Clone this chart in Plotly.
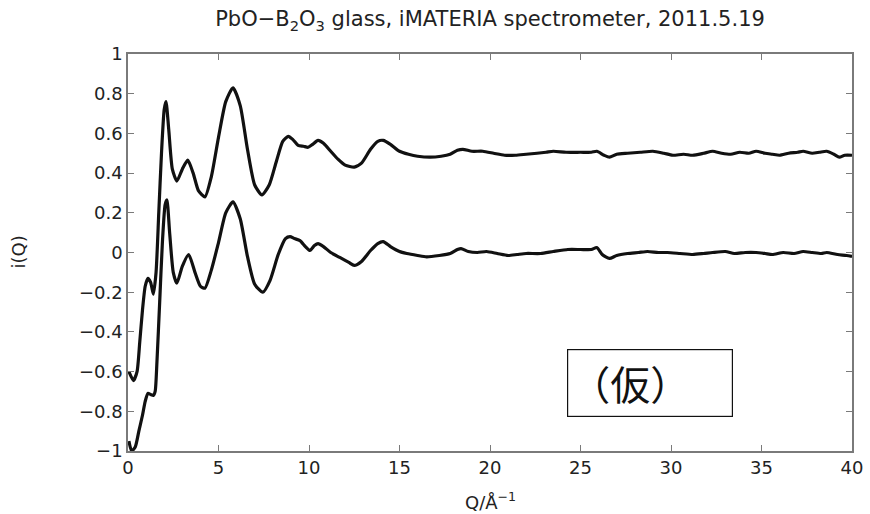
import plotly.graph_objects as go

# Scattering vector Q (1/Å) and interference function i(Q), upper data set
q_upper = [0.05, 0.3, 0.5, 0.65, 0.8, 0.95, 1.1, 1.25, 1.4, 1.55, 1.7, 1.85, 2.0, 2.1,
           2.25, 2.45, 2.7, 3.0, 3.3, 3.6, 3.9, 4.25, 4.6, 5.0, 5.4, 5.8, 6.2, 6.6, 7.0,
           7.4, 7.8, 8.2, 8.55, 8.85, 9.1, 9.4, 9.7, 9.95, 10.2, 10.5, 10.8, 11.2, 11.6,
           12.0, 12.5, 12.9, 13.4, 13.8, 14.1, 14.5, 15.0, 15.5, 16.0, 16.7, 17.3, 17.8,
           18.2, 18.5, 19.0, 19.6, 20.2, 20.8, 21.4, 22.0, 22.6, 23.1, 23.5, 24.2, 25.0,
           25.6, 25.9, 26.3, 26.6, 27.0, 27.6, 28.3, 29.0, 29.6, 30.1, 30.7, 31.2, 31.8,
           32.3, 32.8, 33.3, 33.8, 34.3, 34.7, 35.2, 35.6, 36.0, 36.5, 37.0, 37.3, 37.8,
           38.2, 38.6, 39.0, 39.3, 39.6, 40.0]
i_upper = [-0.60, -0.645, -0.60, -0.45, -0.29, -0.17, -0.13, -0.15, -0.21, -0.10, 0.20,
           0.50, 0.72, 0.76, 0.62, 0.42, 0.36, 0.42, 0.465, 0.40, 0.31, 0.28, 0.38, 0.58,
           0.76, 0.83, 0.74, 0.52, 0.34, 0.29, 0.34, 0.46, 0.56, 0.585, 0.57, 0.54, 0.535,
           0.53, 0.545, 0.565, 0.55, 0.51, 0.47, 0.44, 0.43, 0.45, 0.52, 0.56, 0.565, 0.545,
           0.51, 0.495, 0.485, 0.48, 0.485, 0.495, 0.515, 0.52, 0.51, 0.51, 0.50, 0.49,
           0.49, 0.495, 0.50, 0.505, 0.51, 0.505, 0.505, 0.505, 0.51, 0.49, 0.48, 0.495,
           0.50, 0.505, 0.51, 0.50, 0.49, 0.495, 0.49, 0.50, 0.51, 0.50, 0.495, 0.505,
           0.50, 0.51, 0.50, 0.495, 0.49, 0.50, 0.505, 0.51, 0.50, 0.505, 0.51, 0.495,
           0.48, 0.49, 0.49]

# Lower data set
q_lower = [0.05, 0.2, 0.4, 0.6, 0.8, 0.95, 1.1, 1.25, 1.4, 1.5, 1.6, 1.75, 1.9, 2.05,
           2.15, 2.3, 2.5, 2.7, 3.0, 3.35, 3.7, 4.0, 4.25, 4.6, 5.0, 5.4, 5.8, 6.2, 6.6,
           7.0, 7.45, 7.85, 8.3, 8.7, 8.95, 9.2, 9.5, 9.8, 10.05, 10.3, 10.5, 10.8, 11.2,
           11.7, 12.2, 12.5, 12.9, 13.4, 13.8, 14.1, 14.5, 15.0, 15.4, 16.0, 16.5, 17.2,
           17.8, 18.2, 18.4, 18.8, 19.3, 19.8, 20.4, 21.0, 21.5, 22.0, 22.8, 23.5, 24.3,
           25.0, 25.6, 25.9, 26.2, 26.6, 27.0, 27.6, 28.2, 28.7, 29.3, 29.8, 30.5, 31.2,
           31.8, 32.3, 33.0, 33.5, 34.1, 34.7, 35.2, 35.6, 36.2, 36.8, 37.3, 37.8, 38.3,
           38.6, 39.2, 39.7, 40.0]
i_lower = [-0.95, -1.0, -0.98, -0.90, -0.82, -0.75, -0.71, -0.715, -0.72, -0.70, -0.55,
           -0.25, 0.05, 0.24, 0.265, 0.10, -0.10, -0.155, -0.07, -0.01, -0.10, -0.17,
           -0.18, -0.09, 0.05, 0.20, 0.255, 0.17, -0.02, -0.16, -0.20, -0.14, -0.01, 0.07,
           0.08, 0.07, 0.06, 0.03, 0.01, 0.035, 0.045, 0.03, 0.0, -0.025, -0.05, -0.065,
           -0.045, 0.01, 0.045, 0.055, 0.03, 0.005, -0.005, -0.015, -0.022, -0.015, -0.005,
           0.015, 0.02, 0.005, 0.0, 0.005, -0.005, -0.015, -0.01, -0.005, -0.005, 0.005,
           0.015, 0.015, 0.015, 0.025, -0.01, -0.03, -0.015, -0.005, 0.0, 0.005, 0.0, 0.0,
           -0.005, -0.01, -0.005, 0.0, 0.005, -0.005, 0.0, 0.0, -0.005, -0.01, 0.0, -0.005,
           0.005, 0.0, -0.005, 0.0, -0.01, -0.015, -0.02]

x_ticks = [0, 5, 10, 15, 20, 25, 30, 35, 40]
y_ticks = [-1, -0.8, -0.6, -0.4, -0.2, 0, 0.2, 0.4, 0.6, 0.8, 1]

FONT = "DejaVu Sans"
TEXT_COLOR = "#222222"
line_style = dict(color="#111111", width=3.2, shape="spline", smoothing=0.6)

fig = go.Figure()
fig.add_trace(go.Scatter(x=q_upper, y=i_upper, mode="lines", line=line_style,
                         showlegend=False, hoverinfo="skip"))
fig.add_trace(go.Scatter(x=q_lower, y=i_lower, mode="lines", line=line_style,
                         showlegend=False, hoverinfo="skip"))

axis_common = dict(showline=True, linecolor="#7a7a7a", linewidth=1.5, mirror="ticks",
                   ticks="inside", ticklen=6, tickcolor="#7a7a7a", tickwidth=1.2,
                   showgrid=False, zeroline=False, automargin=False,
                   tickfont=dict(family=FONT, size=18, color=TEXT_COLOR))

fig.update_layout(
    width=870, height=514,
    margin=dict(l=128, r=18, t=54, b=63),
    paper_bgcolor="white", plot_bgcolor="white",
    title=dict(text="PbO−B<sub>2</sub>O<sub>3</sub> glass, iMATERIA spectrometer, 2011.5.19",
               x=(128 + 852) / 2 / 870, xanchor="center", y=1 - 19 / 514, yanchor="middle",
               font=dict(family=FONT, size=21, color=TEXT_COLOR)),
    xaxis=dict(range=[0, 40], tickvals=x_ticks, **axis_common),
    yaxis=dict(range=[-1, 1], tickvals=y_ticks, **axis_common),
)

# Axis titles placed relative to the plotting area
fig.add_annotation(x=0.5, y=0, xref="paper", yref="paper", yshift=-50,
                   text="Q/Å<sup>−1</sup>", showarrow=False,
                   xanchor="center", yanchor="middle",
                   font=dict(family=FONT, size=18, color=TEXT_COLOR))
fig.add_annotation(x=0, y=0.5, xref="paper", yref="paper", xshift=-110,
                   text="i(Q)", showarrow=False, textangle=-90,
                   xanchor="center", yanchor="middle",
                   font=dict(family=FONT, size=18, color=TEXT_COLOR))

fig.add_annotation(
    x=28.85, y=-0.655, xref="x", yref="y", xanchor="center", yanchor="middle",
    text="（仮）", showarrow=False, align="left", width=160, height=62,
    bordercolor="#111111", borderwidth=1.2, borderpad=2, bgcolor="white",
    font=dict(family="Noto Sans CJK JP", size=40, color="#111111"),
)

fig.write_html("out.html")
